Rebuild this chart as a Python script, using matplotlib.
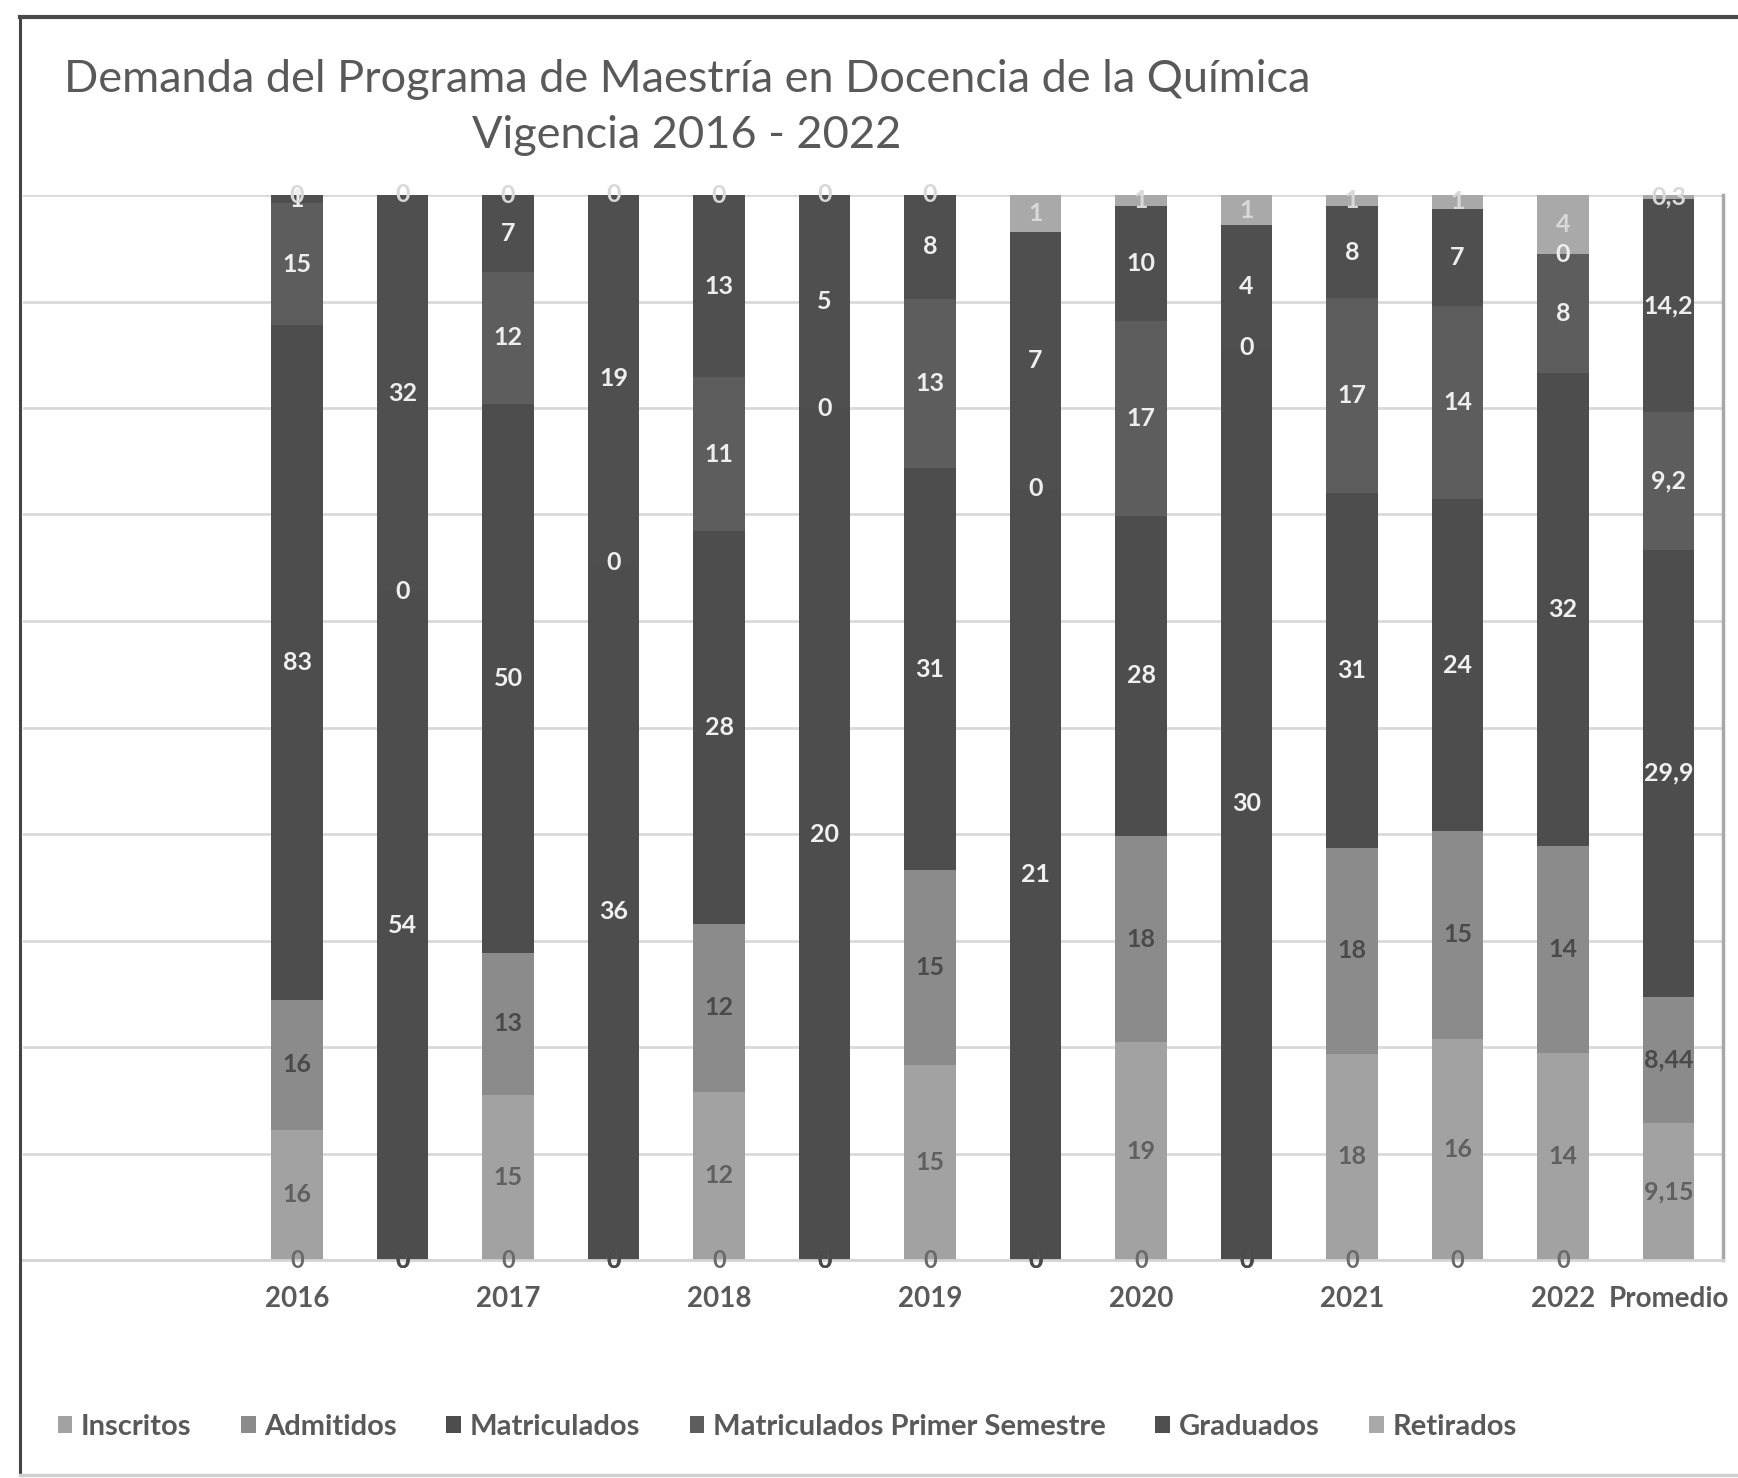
import matplotlib.pyplot as plt
from matplotlib.lines import Line2D
import numpy as np

plt.rcParams['font.family'] = ['Lato', 'DejaVu Sans']

# periodos (dos barras por año) y promedio final
categories = ['2016', '', '2017', '', '2018', '', '2019', '', '2020', '', '2021', '', '2022', 'Promedio']

series_names = ['Inscritos', 'Admitidos', 'Matriculados', 'Matriculados Primer Semestre',
                'Graduados', 'Retirados']
inscritos = [16, 0, 15, 0, 12, 0, 15, 0, 19, 0, 18, 16, 14, 9.15]
admitidos = [16, 0, 13, 0, 12, 0, 15, 0, 18, 0, 18, 15, 14, 8.44]
matriculados = [83, 54, 50, 36, 28, 20, 31, 21, 28, 30, 31, 24, 32, 29.9]
matric_primer = [15, 0, 12, 0, 11, 0, 13, 0, 17, 0, 17, 14, 8, 9.2]
graduados = [1, 32, 7, 19, 13, 5, 8, 7, 10, 4, 8, 7, 0, 14.2]
retirados = [0, 0, 0, 0, 0, 0, 0, 1, 1, 1, 1, 1, 4, 0.3]
# serie vacía que solo deja su etiqueta "0" en la base de cada periodo
base_zero = [0] * 13

colors = ['#a2a2a2', '#8b8b8b', '#4d4d4d', '#5d5d5d', '#4f4f4f', '#a9a9a9']
label_colors = ['#606060', '#4a4a4a', '#f0f0f0', '#eeeeee', '#eeeeee', '#d8d8d8']

data = np.array([inscritos, admitidos, matriculados, matric_primer, graduados, retirados], dtype=float)
totals = data.sum(axis=0)
pct = data / totals


def fmt(v):
    return f'{v:g}'.replace('.', ',')


fig = plt.figure(figsize=(17.38, 14.78), dpi=100)
W, H = 1738, 1478
ax = fig.add_axes([23 / W, 218 / H, 1700 / W, 1065 / H])

x = np.arange(len(categories))
bw = 0.49

# etiqueta cero en la base
zc = ax.bar(x[:13], base_zero, bw, color='none')
ax.bar_label(zc, labels=['0'] * 13, label_type='center', color='#6a6a6a',
             fontsize=17, fontweight='bold')

bottom = np.zeros(len(categories))
for i, name in enumerate(series_names):
    bars = ax.bar(x, pct[i], bw, bottom=bottom, color=colors[i], label=name, zorder=2)
    ax.bar_label(bars, labels=[fmt(v) for v in data[i]], label_type='center',
                 color=label_colors[i], fontsize=18, fontweight='bold', zorder=3)
    bottom += pct[i]

ax.set_xlim((23 - 297) / 105.5, (1723 - 297) / 105.5)
ax.set_ylim(0, 1)
ax.set_yticks(np.arange(0, 1.01, 0.1))
ax.set_yticklabels([])
ax.yaxis.grid(True, color='#d9d9d9', lw=2)
ax.set_axisbelow(True)
ax.tick_params(length=0)
ax.set_xticks(x, categories)
for lab in ax.get_xticklabels():
    lab.set_fontsize(20)
    lab.set_fontweight('bold')
    lab.set_color('#5a5a5a')
ax.tick_params(axis='x', pad=19)

for s in ['left', 'top']:
    ax.spines[s].set_visible(False)
ax.spines['bottom'].set_color('#d4d4d4')
ax.spines['bottom'].set_linewidth(2)
ax.spines['right'].set_color('#a8a8a8')
ax.spines['right'].set_linewidth(2.5)

fig.text(687 / W, 1 - 80 / H, 'Demanda del Programa de Maestría en Docencia de la Química',
         ha='center', va='center', fontsize=32.5, color='#595959')
fig.text(687 / W, 1 - 136 / H, 'Vigencia 2016 - 2022',
         ha='center', va='center', fontsize=32.5, color='#595959')

fig.legend(loc='center left', bbox_to_anchor=(0.018, 51 / H), ncol=6, frameon=False,
           handlelength=0.5, handleheight=0.5, handletextpad=0.3, columnspacing=1.7,
           prop={'size': 21, 'weight': 'bold'}, labelcolor='#595959')

# marco del gráfico
fig.add_artist(Line2D([20 / W, 20 / W], [1 - 17 / H, 1 - 1475 / H], color='#444444', lw=2.2,
                      transform=fig.transFigure))
fig.add_artist(Line2D([20 / W, 1], [1 - 17 / H, 1 - 17 / H], color='#4a4a4a', lw=3,
                      transform=fig.transFigure))
fig.add_artist(Line2D([20 / W, 1], [1 - 1475 / H, 1 - 1475 / H], color='#d0d0d0', lw=2.5,
                      transform=fig.transFigure))

fig.savefig('out.png', dpi=100)
